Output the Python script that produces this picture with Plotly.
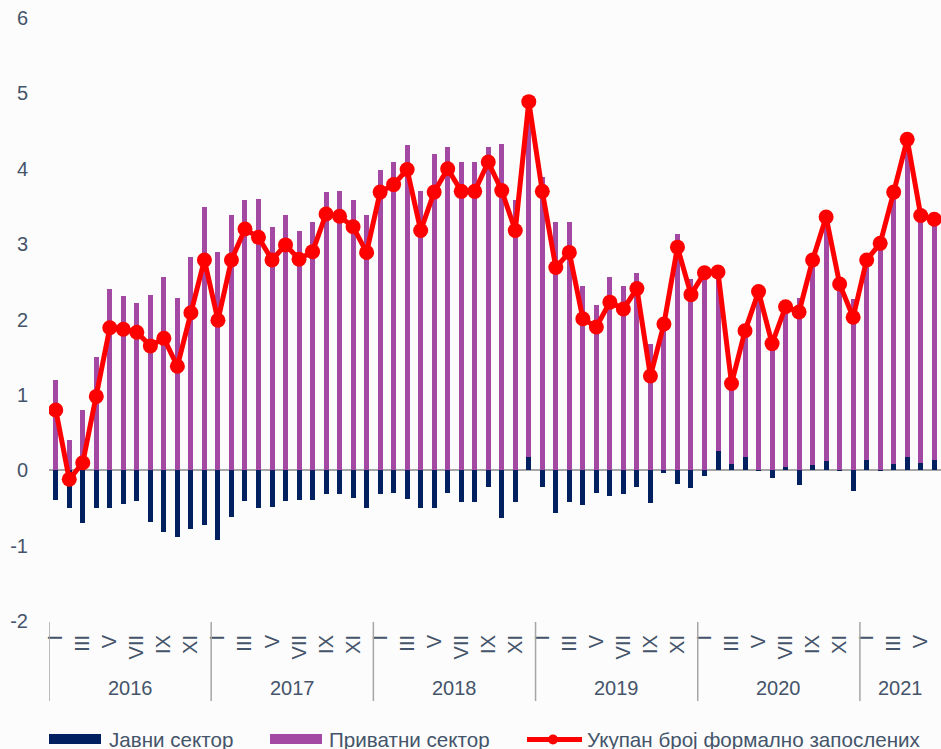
import plotly.graph_objects as go

years = ["2016", "2017", "2018", "2019", "2020", "2021"]
month_labels = ["I", "", "III", "", "V", "", "VII", "", "IX", "", "XI", ""]

public = [-0.40, -0.50, -0.70, -0.50, -0.50, -0.45, -0.41, -0.68, -0.82, -0.88, -0.78, -0.72,
          -0.92, -0.62, -0.41, -0.50, -0.49, -0.41, -0.40, -0.40, -0.31, -0.32, -0.37, -0.50,
          -0.31, -0.30, -0.38, -0.50, -0.50, -0.30, -0.42, -0.42, -0.22, -0.63, -0.42, 0.18,
          -0.22, -0.57, -0.42, -0.46, -0.30, -0.34, -0.31, -0.22, -0.44, -0.04, -0.18, -0.23,
          -0.07, 0.26, 0.08, 0.18, 0.01, -0.10, 0.04, -0.19, 0.07, 0.12, 0.01, -0.27,
          0.14, 0.01, 0.08, 0.18, 0.10, 0.13]

private = [1.20, 0.40, 0.80, 1.50, 2.40, 2.31, 2.22, 2.32, 2.56, 2.28, 2.83, 3.49,
           2.89, 3.39, 3.59, 3.60, 3.23, 3.39, 3.18, 3.29, 3.69, 3.70, 3.58, 3.39,
           3.99, 4.09, 4.32, 3.70, 4.19, 4.29, 4.09, 4.09, 4.29, 4.33, 3.59, 4.71,
           3.89, 3.29, 3.29, 2.44, 2.19, 2.56, 2.44, 2.62, 1.68, 1.98, 3.13, 2.54,
           2.69, 2.37, 1.07, 1.67, 2.36, 1.78, 2.13, 2.28, 2.72, 3.24, 2.46, 2.27,
           2.65, 3.00, 3.61, 4.21, 3.28, 3.20]

total = [0.80, -0.12, 0.10, 0.98, 1.89, 1.87, 1.83, 1.65, 1.75, 1.38, 2.09, 2.79,
         1.99, 2.79, 3.20, 3.09, 2.79, 2.99, 2.80, 2.90, 3.40, 3.37, 3.23, 2.89,
         3.69, 3.79, 3.99, 3.18, 3.69, 4.00, 3.70, 3.70, 4.09, 3.71, 3.18, 4.89,
         3.70, 2.69, 2.89, 2.01, 1.90, 2.23, 2.14, 2.41, 1.25, 1.94, 2.96, 2.33,
         2.62, 2.63, 1.15, 1.85, 2.37, 1.68, 2.17, 2.10, 2.79, 3.36, 2.47, 2.03,
         2.79, 3.01, 3.69, 4.39, 3.38, 3.33]

series_names = ["Јавни сектор", "Приватни сектор", "Укупан број формално запослених"]
y_ticks = [-2, -1, 0, 1, 2, 3, 4, 5, 6]

NAVY = "#002060"
PURPLE = "#A349A4"
RED = "#FF0000"
TXT = "#44546A"
SEP = "#A6A6A6"
FONT = "Liberation Sans, Arial, sans-serif"

n = len(total)
x = list(range(n))

fig = go.Figure()
fig.add_trace(go.Bar(x=x, y=public, name=series_names[0], marker_color=NAVY,
                     width=0.37, marker_line_width=0, showlegend=False))
fig.add_trace(go.Bar(x=x, y=private, name=series_names[1], marker_color=PURPLE,
                     width=0.37, marker_line_width=0, showlegend=False))
fig.add_trace(go.Scatter(x=x, y=total, name=series_names[2], mode="lines+markers",
                         line=dict(color=RED, width=5),
                         marker=dict(color=RED, size=15), showlegend=False))

tickvals = [i for i in x if month_labels[i % 12]]
ticktext = [month_labels[i % 12] for i in tickvals]

W, H = 941, 749
L, R, T, B = 49, 0, 18, 128
PW, PH = W - L - R, H - T - B


def px_x(p):
    return (p - L) / PW


def px_y(p):
    return (H - B - p) / PH


shapes = []
annotations = []
# year separators and labels
for k, yr in enumerate(years):
    start = k * 12 - 0.5
    shapes.append(dict(type="line", xref="x", yref="paper", x0=start, x1=start,
                       y0=px_y(622), y1=px_y(701), line=dict(color=SEP, width=1.5)))
    end = min((k + 1) * 12 - 0.5, n - 0.5)
    annotations.append(dict(x=(start + end) / 2, y=px_y(688), xref="x", yref="paper",
                            text=yr, showarrow=False, xanchor="center", yanchor="middle",
                            font=dict(size=20, color=TXT, family=FONT)))

# manual legend
ly0, ly1 = px_y(734), px_y(744)
shapes.append(dict(type="rect", xref="paper", yref="paper", x0=px_x(49), x1=px_x(101),
                   y0=ly0, y1=ly1, fillcolor=NAVY, line=dict(width=0)))
shapes.append(dict(type="rect", xref="paper", yref="paper", x0=px_x(270), x1=px_x(322),
                   y0=ly0, y1=ly1, fillcolor=PURPLE, line=dict(width=0)))
shapes.append(dict(type="line", xref="paper", yref="paper", x0=px_x(527), x1=px_x(582),
                   y0=px_y(739.5), y1=px_y(739.5), line=dict(color=RED, width=5)))
shapes.append(dict(type="circle", xref="paper", yref="paper",
                   x0=px_x(548), x1=px_x(558), y0=px_y(734.5), y1=px_y(744.5),
                   fillcolor=RED, line=dict(width=0)))
for xpx, name in zip([107, 327, 585], series_names):
    annotations.append(dict(x=px_x(xpx), y=px_y(739), xref="paper", yref="paper",
                            text=name, showarrow=False, xanchor="left", yanchor="middle",
                            font=dict(size=20.6, color=TXT, family=FONT)))

fig.update_layout(
    width=W, height=H,
    margin=dict(l=L, r=R, t=T, b=B, pad=0),
    barmode="relative",
    bargap=0,
    paper_bgcolor="#FCFCFC",
    plot_bgcolor="#FCFCFC",
    font=dict(family=FONT, size=20, color=TXT),
    shapes=shapes,
    annotations=annotations,
    xaxis=dict(range=[-0.5, n - 0.5], tickmode="array", tickvals=tickvals, ticktext=ticktext,
               tickangle=-90, showgrid=False, zeroline=False, showline=False,
               ticks="outside", ticklen=5, tickcolor="rgba(0,0,0,0)",
               tickfont=dict(size=20, color=TXT, family=FONT)),
    yaxis=dict(range=[-2, 6], tickmode="array", tickvals=y_ticks,
               ticktext=[str(v) for v in y_ticks],
               showgrid=False, zeroline=True, zerolinecolor=SEP, zerolinewidth=1.5,
               showline=False, ticks="outside", ticklen=16, tickcolor="rgba(0,0,0,0)",
               tickfont=dict(size=20, color=TXT, family=FONT)),
)

fig.write_html(
    "out.html",
    config={"displayModeBar": False},
    post_script="document.body.style.margin='0';document.body.style.padding='0';"
                "document.body.style.overflow='hidden';"
                "document.documentElement.style.overflow='hidden';"
                "document.body.style.background='#FCFCFC';",
)
